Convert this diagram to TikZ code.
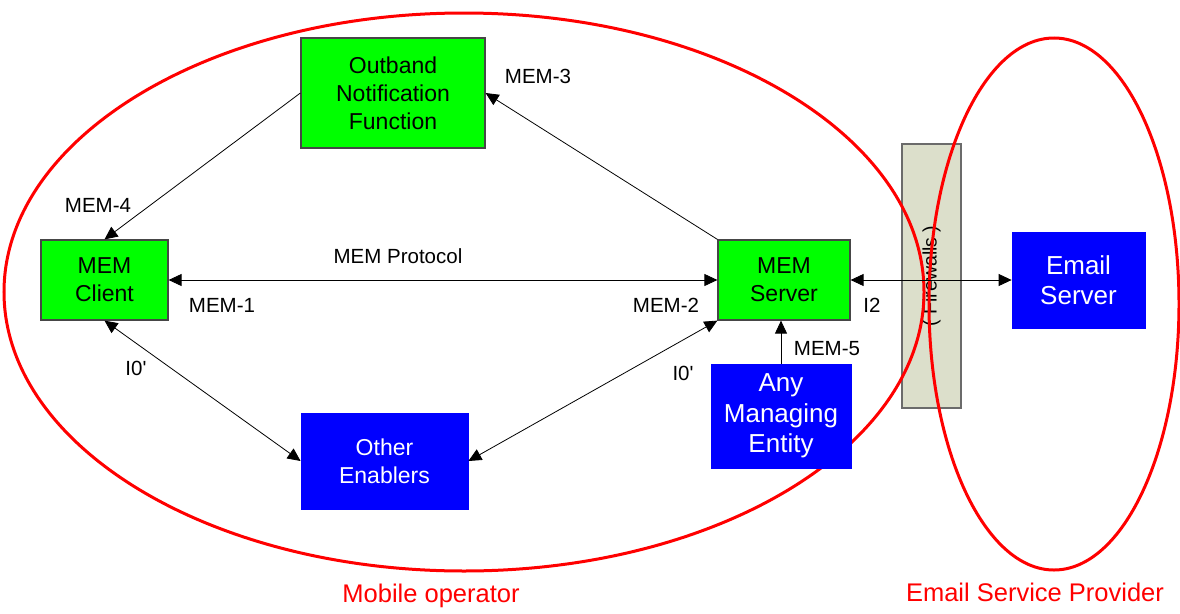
\documentclass[tikz,border=0pt]{standalone}
\usepackage{fontspec}
\setmainfont{Liberation Sans}[Ligatures=TeXOff]
\usetikzlibrary{arrows.meta}
\definecolor{boxgreen}{RGB}{0,255,0}
\definecolor{boxblue}{RGB}{0,0,255}
\definecolor{fwfill}{RGB}{220,223,203}
\definecolor{bordergray}{RGB}{70,70,70}
\definecolor{ovalred}{RGB}{255,0,0}
\tikzset{
  greenbox/.style={draw=bordergray, line width=1.2pt, fill=boxgreen, align=center, inner sep=0pt,
    font=\fontsize{23}{28}\selectfont},
  bluebox/.style={draw=boxblue, line width=0.8pt, fill=boxblue, text=white, align=center, inner sep=0pt,
    font=\fontsize{23}{28}\selectfont},
  fwbox/.style={draw=bordergray!80, line width=1.2pt, fill=fwfill, inner sep=0pt},
  oval/.style={draw=ovalred, line width=3pt},
  conn/.style={draw=black, line width=0.8pt},
  tipe/.style={-{Triangle[length=13pt,width=12pt]}},
  tipb/.style={{Triangle[length=13pt,width=12pt]}-{Triangle[length=13pt,width=12pt]}},
  lbl/.style={inner sep=0pt, font=\fontsize{20.5}{24}\selectfont},
  redlbl/.style={inner sep=0pt, text=ovalred, font=\fontsize{25.5}{30}\selectfont}
}
\begin{document}
\begin{tikzpicture}[x=1pt,y=-1pt]
\useasboundingbox (0,0) rectangle (1180,613);
% firewall
\node[fwbox, minimum width=59pt, minimum height=264pt] (fw) at (931.5,276) {};
\node[rotate=90, inner sep=0pt, font=\fontsize{19.5}{22}\selectfont] (fwtext) at (fw.center) {( Firewalls )};
% ovals
\draw[oval] (464,292) ellipse [x radius=460pt, y radius=279pt];
\draw[oval] (1054,304) ellipse [x radius=125pt, y radius=266pt];
% boxes
\node[greenbox, minimum width=184pt, minimum height=110pt] (onf) at (393,93) {Outband\\Notification\\Function};
\node[greenbox, minimum width=127pt, minimum height=80pt] (client) at (104.5,280) {MEM\\Client};
\node[greenbox, minimum width=132pt, minimum height=80pt] (server) at (784,280) {MEM\\Server};
\node[bluebox, minimum width=167pt, minimum height=96pt] (other) at (384.5,461) {Other\\Enablers};
\node[bluebox, minimum width=140pt, minimum height=104pt, font=\fontsize{26}{30.5}\selectfont] (ame) at (781,416) {Any\\Managing\\Entity};
\node[bluebox, minimum width=133pt, minimum height=96pt, font=\fontsize{26}{30.5}\selectfont] (email) at (1078.5,280) {Email\\Server};
% connectors
\draw[conn, tipe] (onf.west) -- (client.north);
\draw[conn, tipe] (server.north west) -- (onf.east);
\draw[conn, tipb] (client.east) -- (server.west);
\draw[conn, tipb] (client.south) -- (other.west);
\draw[conn, tipb] (other.east) -- (server.south west);
\draw[conn, tipe] (ame.north) -- (ame.north |- server.south);
\draw[conn, tipb] (server.east) -- (email.west);
% labels
\node[lbl] (l4) at (98,205) {MEM-4};
\node[lbl] (l3) at (538,76) {MEM-3};
\node[lbl] (lp) at (398,256) {MEM Protocol};
\node[lbl] (l1) at (222,305) {MEM-1};
\node[lbl] (l2) at (666,305) {MEM-2};
\node[lbl] (li2) at (872,305) {I2};
\node[lbl] (l5) at (827,349) {MEM-5};
\node[lbl] (li0a) at (136,368) {I0'};
\node[lbl] (li0b) at (683,373) {I0'};
\node[redlbl] (mo) at (431,596) {Mobile operator};
\node[redlbl] (esp) at (1035,592) {Email Service Provider};
\end{tikzpicture}
\end{document}
